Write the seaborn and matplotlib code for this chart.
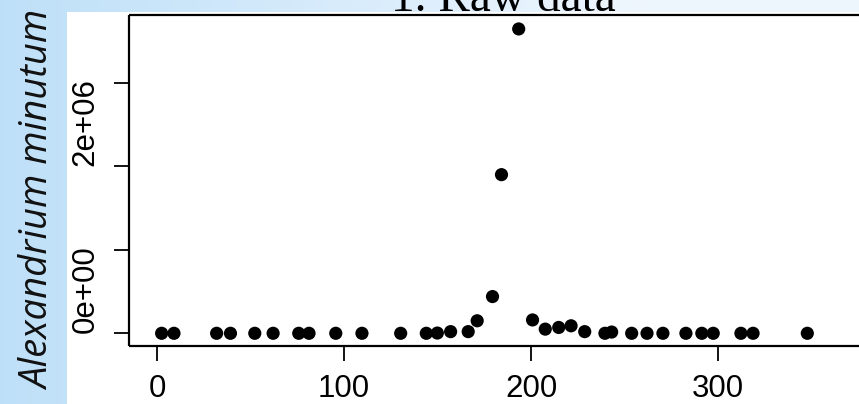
import numpy as np
import matplotlib
matplotlib.use("Agg")
import matplotlib.pyplot as plt
import seaborn as sns
from matplotlib.patches import Rectangle

# ---- data ----
day = [2.5, 9.1, 31.9, 39.3, 52.3, 62.1, 75.8, 81.3, 95.6, 109.6, 130.3, 144.0,
       149.9, 157.0, 166.4, 171.2, 179.4, 184.2, 193.4, 200.8, 207.6, 214.8,
       221.4, 228.7, 239.5, 243.1, 253.8, 262.0, 270.5, 282.8, 291.3, 297.4,
       312.2, 318.7, 347.7]
cells = [0, 0, 0, 0, 0, 0, 0, 0, 0, 0, 0, 0,
         3e3, 2e4, 2e4, 1.5e5, 4.4e5, 1.9e6, 3.645e6, 1.6e5, 5e4, 7e4,
         9e4, 2e4, 0, 1.5e4, 0, 0, 0, 0, 0, 0,
         0, 0, 0]
ytick_vals = [0, 1e6, 2e6, 3e6]
ytick_labels = ["0e+00", "", "2e+06", ""]
xtick_vals = [0, 100, 200, 300]
xtick_labels = ["0", "100", "200", "300"]
title = "1. Raw data"
ylabel = "Alexandrium minutum"

W, H = 859, 404
sns.set_style("white")
fig = plt.figure(figsize=(W / 100, H / 100), dpi=100)

# background gradient
bg = fig.add_axes([0, 0, 1, 1], zorder=-10)
xs = np.linspace(0, 1, 400)
t = np.clip(xs / 0.75, 0, 1)[None, :, None]
c0 = np.array([0.745, 0.878, 0.973])
c1 = np.array([0.937, 0.965, 0.996])
grad = c0 * (1 - t) + c1 * t
bg.imshow(grad, aspect="auto", extent=[0, 1, 0, 1])
bg.set_axis_off()

# white panel
fig.patches.append(Rectangle((67 / W, 0), 1 - 67 / W, (H - 12) / H,
                             transform=fig.transFigure,
                             facecolor="white", edgecolor="none", zorder=-5))

# main axes (reaches the right edge of the picture; the box is open there)
left_px, right_px, top_px, bot_px = 129, 859, 15, 346
ax = fig.add_axes([left_px / W, (H - bot_px) / H, (right_px - left_px) / W,
                   (bot_px - top_px) / H])
ax.patch.set_alpha(0)

sns.scatterplot(x=day, y=cells, color="black", s=90, edgecolor="none", ax=ax,
                legend=False)

ppu = 1.873
x0 = 157
ax.set_xlim((left_px - x0) / ppu, (right_px + 1 - x0) / ppu)
y0 = 333.3
ax.set_ylim((y0 - bot_px) / 83.5 * 1e6, (y0 - top_px) / 83.5 * 1e6)

ax.set_xticks(xtick_vals)
ax.set_xticklabels(xtick_labels)
ax.set_yticks(ytick_vals)
ax.set_yticklabels(ytick_labels)
ax.set_xlabel("")
ax.set_ylabel("")

for s in ["left", "bottom", "top"]:
    ax.spines[s].set_visible(True)
    ax.spines[s].set_color("black")
    ax.spines[s].set_linewidth(1.6)
    ax.spines[s].set_capstyle("butt")
ax.spines["right"].set_visible(False)

ax.tick_params(axis="both", direction="out", length=10.5, width=1.3,
               color="black", labelsize=22.5, labelcolor="black",
               left=True, bottom=True, right=False, top=False)
ax.tick_params(axis="x", pad=9.5)
ax.tick_params(axis="y", pad=10)
for lab in ax.get_yticklabels():
    lab.set_rotation(90)
    lab.set_va("bottom")
    lab.set_family(["Liberation Sans", "DejaVu Sans"])
for lab in ax.get_xticklabels():
    lab.set_family(["Liberation Sans", "DejaVu Sans"])

# title (serif, partly cut off at top as in the reference)
fig.text(503.5 / W, (H - 11) / H, title, ha="center",
         va="baseline", fontsize=34, family=["Liberation Serif", "DejaVu Serif"],
         color="black")

# y label
fig.text(39 / W, (H - 200) / H, ylabel, rotation=90, ha="center", va="center",
         fontsize=27.5, style="italic", family=["Open Sans", "DejaVu Sans"],
         color="#111111")

fig.savefig("out.png", dpi=100)
